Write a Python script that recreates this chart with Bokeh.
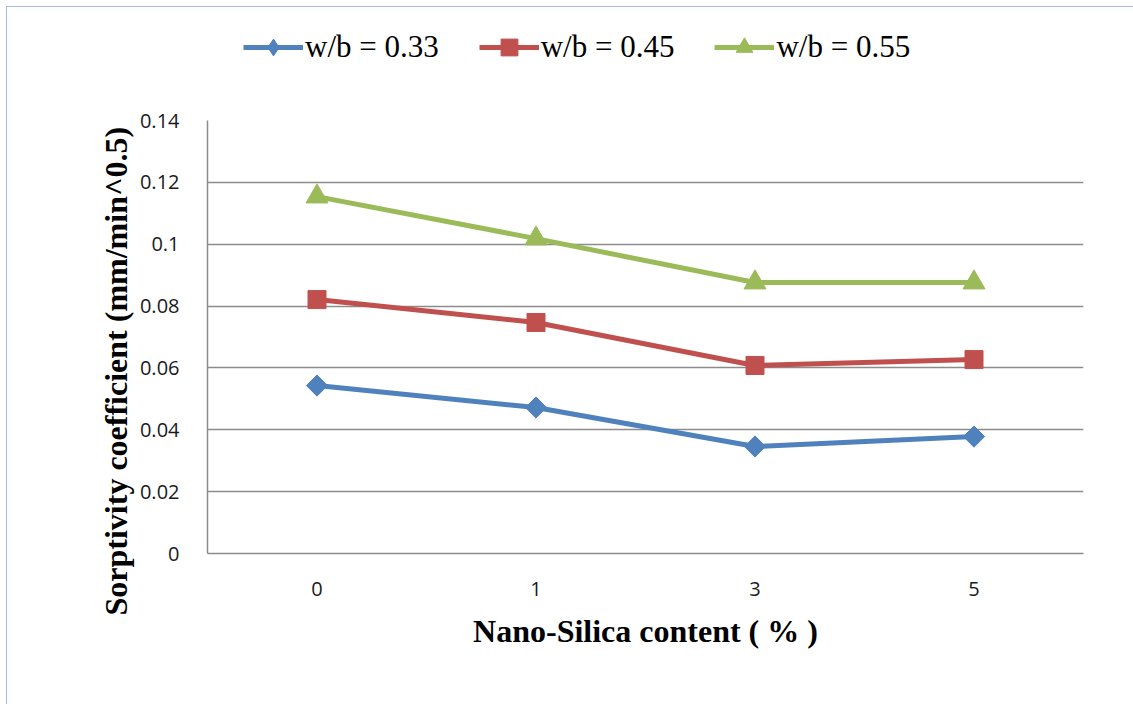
import math
from bokeh.plotting import figure
from bokeh.layouts import column
from bokeh.models import (FactorRange, Range1d, FixedTicker, PrintfTickFormatter,
                          Legend, LegendItem, Title, ColumnDataSource)
from bokeh.embed import file_html
from bokeh.resources import INLINE

categories = ["0", "1", "3", "5"]
wb033 = [0.0543, 0.0472, 0.0346, 0.0378]
wb045 = [0.0821, 0.0747, 0.0608, 0.0627]
wb055 = [0.1154, 0.1018, 0.0876, 0.0876]
y_ticks = [0, 0.02, 0.04, 0.06, 0.08, 0.10, 0.12, 0.14]
series_names = ["w/b = 0.33", "w/b = 0.45", "w/b = 0.55"]
colors = ["#4F81BD", "#C0504D", "#9BBB59"]
markers = ["square", "square", "triangle"]
legend_markers = ["diamond", "square", "triangle"]
marker_angles = [math.pi / 4, 0, 0]
marker_sizes = [15, 18, 22]

OFF = 7          # outer chart border offset (top/left)
W = 1133 - OFF
TOP_H = 93

# ---------- main chart ----------
p = figure(width=W, height=704 - OFF - TOP_H, output_backend="svg", toolbar_location=None,
           x_range=FactorRange(factors=categories, range_padding=0),
           y_range=Range1d(0, 0.14),
           min_border_left=207 - OFF, min_border_right=50,
           min_border_top=120 - OFF - TOP_H, min_border_bottom=151)
p.outline_line_color = None
p.background_fill_color = "white"
p.border_fill_color = "white"

p.yaxis.ticker = FixedTicker(ticks=y_ticks)
p.yaxis.formatter = PrintfTickFormatter(format="%g")
for ax in (p.xaxis[0], p.yaxis[0]):
    ax.axis_line_color = "#8c8c8c"
    ax.axis_line_width = 1.5
    ax.major_tick_line_color = None
    ax.minor_tick_line_color = None
    ax.major_label_text_font = "Open Sans"
    ax.major_label_text_font_size = "20px"
    ax.major_label_text_color = "#1a1a1a"
p.yaxis.major_label_standoff = 22
p.xaxis.major_label_standoff = 22
p.xaxis.axis_label = "Nano-Silica content ( % )"
p.xaxis.axis_label_text_font = "Liberation Serif"
p.xaxis.axis_label_text_font_style = "bold"
p.xaxis.axis_label_text_font_size = "32px"
p.xaxis.axis_label_text_color = "black"
p.xaxis.axis_label_standoff = 14

p.xgrid.grid_line_color = None
p.ygrid.grid_line_color = "#8c8c8c"
p.ygrid.grid_line_width = 1.5

ytitle = Title(text="Sorptivity coefficient (mm/min^0.5)", align="left", offset=-62,
               text_font="Liberation Serif", text_font_style="bold",
               text_font_size="32px", text_color="black", standoff=6)
p.add_layout(ytitle, "left")

src = ColumnDataSource(dict(x=categories, a=wb033, b=wb045, c=wb055))
for col, c, mk, ang, sz in zip(["a", "b", "c"], colors, markers, marker_angles, marker_sizes):
    p.line("x", col, source=src, line_color=c, line_width=5)
    p.scatter("x", col, source=src, marker=mk, angle=ang, size=sz,
              fill_color=c, line_color=c)

# ---------- legend strip above the chart ----------
lg = figure(width=W, height=TOP_H, output_backend="svg", toolbar_location=None,
            x_range=Range1d(0, 1), y_range=Range1d(0, 1),
            min_border=0, min_border_left=0, min_border_right=0,
            min_border_top=0, min_border_bottom=0)
lg.outline_line_color = None
lg.grid.grid_line_color = None
lg.xaxis.visible = False
lg.yaxis.visible = False
# off-range placeholder glyphs, only used to draw the legend swatches
hidden = ColumnDataSource(dict(x=[-5, -4], y=[-5, -4]))
items = []
for name, c, mk in zip(series_names, colors, legend_markers):
    r1 = lg.line("x", "y", source=hidden, line_color=c, line_width=5)
    r2 = lg.scatter("x", "y", source=hidden, marker=mk,
                    fill_color=c, line_color=c)
    items.append(LegendItem(label=name, renderers=[r1, r2]))
legend = Legend(items=items, orientation="horizontal", location=(36, TOP_H - (68 - OFF)),
                label_text_font="Liberation Serif", label_text_font_size="31px",
                label_text_color="black", glyph_width=60, glyph_height=42,
                label_standoff=2, spacing=40, padding=0, margin=0,
                border_line_color=None, background_fill_alpha=0)
lg.add_layout(legend, "center")

layout = column(lg, p, spacing=0,
                styles={"margin-left": "6px", "margin-top": "6px",
                        "border-left": "1px solid #a3bdea",
                        "border-top": "1px solid #a3bdea"})
open("out.html", "w").write(file_html(layout, INLINE))
